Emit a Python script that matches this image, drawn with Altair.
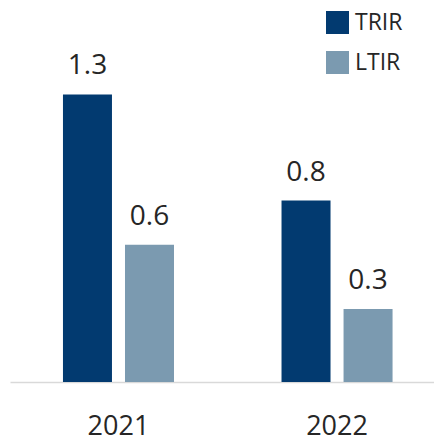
import altair as alt
import pandas as pd

years = ["2021", "2022"]
series = ["TRIR", "LTIR"]
trir = [1.30, 0.82]
ltir = [0.62, 0.33]
colors = ["#023A70", "#7B9AB0"]

rows = []
for i, y in enumerate(years):
    rows.append({"year": y, "metric": "TRIR", "value": trir[i]})
    rows.append({"year": y, "metric": "LTIR", "value": ltir[i]})
df = pd.DataFrame(rows)

FONT = "Open Sans"
TXT = "#262626"

x = alt.X("year:N", title=None,
          scale=alt.Scale(paddingInner=0.492, paddingOuter=0.216, align=0.561),
          axis=alt.Axis(labelAngle=0, labelFontSize=27, labelFont=FONT, labelColor=TXT,
                        ticks=False, labelPadding=31, domainColor="#D9D9D9", domainWidth=1.5))
xo = alt.XOffset("metric:N", sort=series,
                 scale=alt.Scale(paddingInner=0.21, paddingOuter=0))
y = alt.Y("value:Q", scale=alt.Scale(domain=[0, 1.6]), axis=None)

bars = alt.Chart(df).mark_bar().encode(
    x=x, xOffset=xo, y=y,
    color=alt.Color("metric:N", sort=series,
                    scale=alt.Scale(domain=series, range=colors),
                    legend=alt.Legend(title=None, orient="none", legendX=316, legendY=-17,
                                      symbolType="square", symbolSize=529, symbolStrokeWidth=0,
                                      labelFontSize=23, labelFont=FONT, labelColor=TXT,
                                      labelOffset=6, rowPadding=16, padding=0)),
)

labels = alt.Chart(df).mark_text(baseline="alphabetic", dy=-20, fontSize=28, font=FONT, color=TXT).encode(
    x=alt.X("year:N"), xOffset=alt.XOffset("metric:N", sort=series), y="value:Q",
    text=alt.Text("value:Q", format=".1f"),
)

chart = (bars + labels).properties(
    width=424, height=354,
    autosize=alt.AutoSizeParams(type="none"),
    padding={"left": 2, "top": 20, "right": 0, "bottom": 56},
).configure_view(stroke=None)

chart.save("out.html", embed_options={"renderer": "svg", "actions": False})
